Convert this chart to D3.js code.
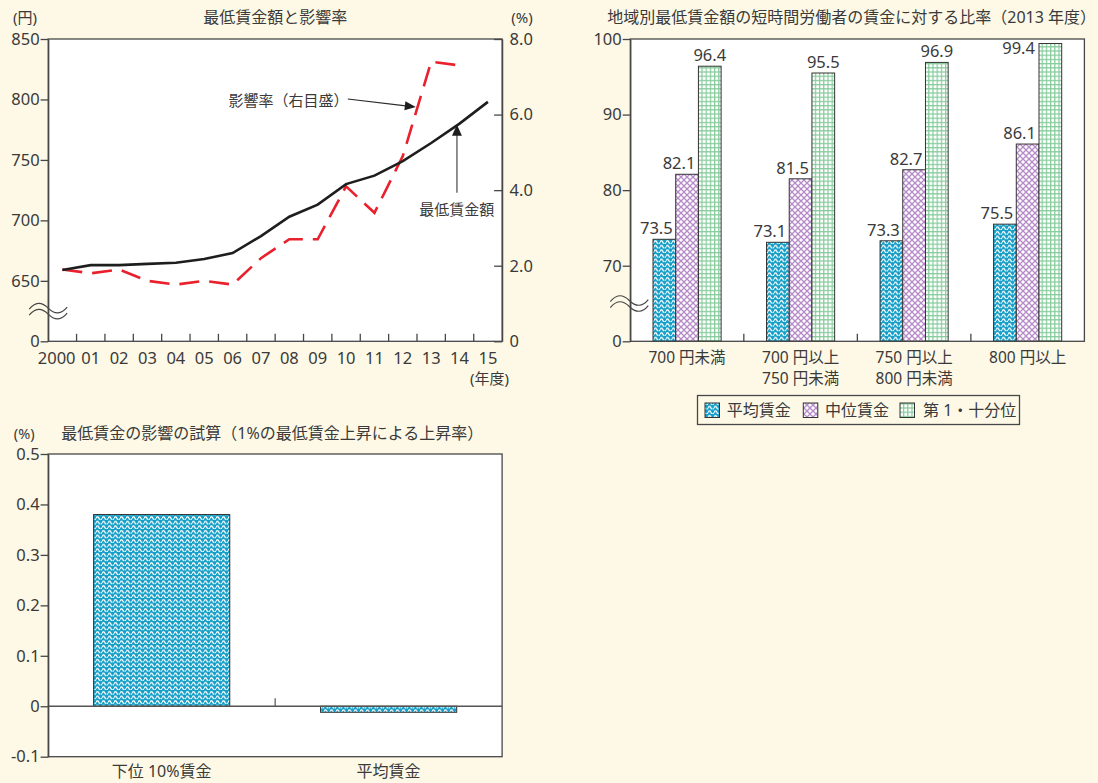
<!DOCTYPE html>
<html><head><meta charset="utf-8">
<script src="https://cdn.jsdelivr.net/npm/d3@7"></script>
<style>
body{margin:0;background:#fdf9e6;}
svg{display:block;}
</style></head><body>
<svg id="chart" width="1098" height="783"></svg>
<script>
// ---------- DATA ----------
const years = ["2000","01","02","03","04","05","06","07","08","09","10","11","12","13","14","15"];
const minWage = [659,663,663,664,665,668,673,687,703,713,730,737,749,764,780,798];
const impactRate = [1.9,1.8,1.9,1.6,1.5,1.6,1.5,2.2,2.7,2.7,4.1,3.4,4.9,7.4,7.3,null];
const wageTicks = [600,650,700,750,800,850];
const wageTickLabels = ["0","650","700","750","800","850"];
const rateTicks = [0,2,4,6,8];
const rateTickLabels = ["0","2.0","4.0","6.0","8.0"];

const regionCats = ["700 円未満","700 円以上 750 円未満","750 円以上 800 円未満","800 円以上"];
const regionCatLines = [["700 円未満"],["700 円以上","750 円未満"],["750 円以上","800 円未満"],["800 円以上"]];
const ratioSeries = ["平均賃金","中位賃金","第 1・十分位"];
const ratioAvg = [73.5,73.1,73.3,75.5];
const ratioMedian = [82.1,81.5,82.7,86.1];
const ratioDecile = [96.4,95.5,96.9,99.4];
const ratioTicks = [60,70,80,90,100];
const ratioTickLabels = ["0","70","80","90","100"];

const simCats = ["下位 10%賃金","平均賃金"];
const simValues = [0.38,-0.012];
const simTicks = [-0.1,0,0.1,0.2,0.3,0.4,0.5];
const simTickLabels = ["-0.1","0","0.1","0.2","0.3","0.4","0.5"];

// ---------- STYLE ----------
const FONT = '"Noto Sans","Noto Sans CJK JP",sans-serif';
const NUM = 16.5;
const TXT = "#3a3a3a", AX = "#474747";
const svg = d3.select("#chart").attr("font-family", FONT);

const defs = svg.append("defs");
const pw = defs.append("pattern").attr("id","wave").attr("width",6).attr("height",4.6).attr("patternUnits","userSpaceOnUse");
pw.append("rect").attr("width",6).attr("height",4.6).attr("fill","#169fc8");
pw.append("path").attr("d","M0,3.2 Q1.5,0 3,3.2 T6,3.2").attr("stroke","#fff").attr("stroke-width",1.3).attr("fill","none");
const pl = defs.append("pattern").attr("id","lattice").attr("width",6).attr("height",6).attr("patternUnits","userSpaceOnUse");
pl.append("rect").attr("width",6).attr("height",6).attr("fill","#fff");
pl.append("path").attr("d","M-1,-1 L7,7 M7,-1 L-1,7").attr("stroke","#b68ac8").attr("stroke-width",1.3);
const pg = defs.append("pattern").attr("id","grid").attr("width",4.2).attr("height",4.2).attr("patternUnits","userSpaceOnUse");
pg.append("rect").attr("width",4.2).attr("height",4.2).attr("fill","#fff");
pg.append("path").attr("d","M0,0.6 H4.2 M0.6,0 V4.2").attr("stroke","#86cb9c").attr("stroke-width",1.2);
const fills = ["url(#wave)","url(#lattice)","url(#grid)"];

function styleAxis(g){
  g.attr("font-family", FONT).attr("font-size",NUM);
  g.selectAll("path.domain").attr("stroke",AX).attr("stroke-width",1.3);
  g.selectAll("line").attr("stroke",AX).attr("stroke-width",1.3);
  g.selectAll("text").attr("fill",TXT);
}
function drawBreak(cx, cy){
  [-3,3].forEach(off=>{
    svg.append("path")
      .attr("d",`M${cx-19},${cy+off+1} Q${cx-10},${cy+off-10} ${cx},${cy+off} T${cx+19},${cy+off-1}`)
      .attr("fill","none").attr("stroke",AX).attr("stroke-width",1.2);
  });
}
function text(x,y,s,anchor,size){
  return svg.append("text").attr("x",x).attr("y",y).attr("text-anchor",anchor||"middle")
    .attr("dominant-baseline","central").attr("font-size",size||16).attr("fill",TXT).text(s);
}

// ---------- CHART 1 ----------
const c1 = {l:48.2, r:502.1, t:39, b:341.3};
const x1 = d3.scaleBand().domain(years).range([c1.l,c1.r]);
const cx1 = d => x1(d) + x1.bandwidth()/2;
const yL = d3.scaleLinear().domain([600,850]).range([c1.b,c1.t]);
const yR = d3.scaleLinear().domain([0,8]).range([c1.b,c1.t]);
svg.append("rect").attr("x",c1.l).attr("y",c1.t).attr("width",c1.r-c1.l).attr("height",c1.b-c1.t).attr("fill","#fff");

svg.append("path").datum(impactRate)
  .attr("d", d3.line().defined(d=>d!=null).x((d,i)=>cx1(years[i])).y(d=>yR(d)))
  .attr("fill","none").attr("stroke","#e8212d").attr("stroke-width",2.6).attr("stroke-dasharray","20,10");
svg.append("path").datum(minWage)
  .attr("d", d3.line().x((d,i)=>cx1(years[i])).y(d=>yL(d)))
  .attr("fill","none").attr("stroke","#1e1e1e").attr("stroke-width",2.6);

const gL1 = svg.append("g").attr("transform",`translate(${c1.l},0)`)
  .call(d3.axisLeft(yL).tickValues(wageTicks).tickFormat((d,i)=>wageTickLabels[i]).tickSize(7.6).tickSizeOuter(0).tickPadding(1));
styleAxis(gL1);
const gR1 = svg.append("g").attr("transform",`translate(${c1.r},0)`)
  .call(d3.axisRight(yR).tickValues(rateTicks).tickFormat((d,i)=>rateTickLabels[i]).tickSizeInner(-8).tickSizeOuter(0).tickPadding(7.5));
styleAxis(gR1);
svg.append("g").selectAll("line").data(years.slice(1)).join("line")
  .attr("x1",d=>x1(d)).attr("x2",d=>x1(d)).attr("y1",c1.b).attr("y2",c1.b-7.5)
  .attr("stroke",AX).attr("stroke-width",1.3);
svg.append("g").selectAll("text").data(years).join("text")
  .attr("x",(d,i)=> i===0 ? x1(d)+x1.bandwidth()-1 : cx1(d))
  .attr("y",357.3).attr("text-anchor",(d,i)=>i===0?"end":"middle").attr("dominant-baseline","central")
  .attr("font-size",NUM).attr("fill",TXT).text(d=>d);
svg.append("rect").attr("x",c1.l).attr("y",c1.t).attr("width",c1.r-c1.l).attr("height",c1.b-c1.t)
  .attr("fill","none").attr("stroke",AX).attr("stroke-width",1.3);
drawBreak(c1.l, (yL(600)+yL(650))/2);

text((c1.l+c1.r)/2,17,"最低賃金額と影響率","middle",16);
text(25,17,"(円)","middle",15);
text(522,17,"(%)","middle",15);
text(509,378.3,"(年度)","end",15);

// annotations
const tip1 = [cx1("12")+13, yR(6.2)];
text(288.4,100,"影響率（右目盛）","middle",15);
svg.append("line").attr("x1",347.8).attr("y1",99).attr("x2",tip1[0]-10).attr("y2",tip1[1]-1.2)
  .attr("stroke","#2a2a2a").attr("stroke-width",1.2);
{
  const ang = Math.atan2(tip1[1]-99, tip1[0]-347.8);
  const L=11, W=4.5;
  const bx = tip1[0]-L*Math.cos(ang), by = tip1[1]-L*Math.sin(ang);
  svg.append("path").attr("d",`M${tip1[0]},${tip1[1]} L${bx- W*Math.sin(ang)},${by+W*Math.cos(ang)} L${bx+W*Math.sin(ang)},${by-W*Math.cos(ang)} Z`).attr("fill","#1e1e1e");
}
const tip2 = [cx1("14")-2.6, yL(780)+1];
svg.append("line").attr("x1",tip2[0]).attr("x2",tip2[0]).attr("y1",192.7).attr("y2",tip2[1]+8)
  .attr("stroke","#555").attr("stroke-width",1.3);
svg.append("path").attr("d",`M${tip2[0]},${tip2[1]} L${tip2[0]-5},${tip2[1]+11} L${tip2[0]+5},${tip2[1]+11} Z`).attr("fill","#1e1e1e");
text(456.8,209.3,"最低賃金額","middle",15);

// ---------- CHART 2 ----------
const c2 = {l:630.3, r:1084.4, t:39, b:341.3};
const x2 = d3.scaleBand().domain(regionCats).range([c2.l,c2.r]);
const xs = d3.scaleBand().domain(ratioSeries).range([0.2*x2.bandwidth(),0.8*x2.bandwidth()]);
const y2 = d3.scaleLinear().domain([60,100]).range([c2.b,c2.t]);
svg.append("rect").attr("x",c2.l).attr("y",c2.t).attr("width",c2.r-c2.l).attr("height",c2.b-c2.t).attr("fill","#fff");
const ratioData = [ratioAvg,ratioMedian,ratioDecile];
const bars2 = [];
regionCats.forEach((c,ci)=>{
  ratioSeries.forEach((s,si)=>{
    bars2.push({c,s,si,v:ratioData[si][ci]});
  });
});
svg.append("g").selectAll("rect").data(bars2).join("rect")
  .attr("x",d=>x2(d.c)+xs(d.s)).attr("width",xs.bandwidth())
  .attr("y",d=>y2(d.v)).attr("height",d=>y2(60)-y2(d.v))
  .attr("fill",d=>fills[d.si]).attr("stroke","#333").attr("stroke-width",1);
svg.append("g").selectAll("text").data(bars2).join("text")
  .each(function(d){
    const x0 = x2(d.c)+xs(d.s), w = xs.bandwidth(), yt = y2(d.v);
    const el = d3.select(this);
    if (yt - 5 - 12 < c2.t) {
      el.attr("x",x0-4).attr("y",yt+10.5).attr("text-anchor","end");
    } else if (d.si < 2) {
      el.attr("x",x0+w-3).attr("y",yt-5).attr("text-anchor","end");
    } else {
      el.attr("x",x0+w/2).attr("y",yt-5).attr("text-anchor","middle");
    }
  })
  .attr("font-size",NUM).attr("fill",TXT).text(d=>d.v.toFixed(1));

const gL2 = svg.append("g").attr("transform",`translate(${c2.l},0)`)
  .call(d3.axisLeft(y2).tickValues(ratioTicks).tickFormat((d,i)=>ratioTickLabels[i]).tickSize(7.6).tickSizeOuter(0).tickPadding(1));
styleAxis(gL2);
svg.append("g").selectAll("line").data(regionCats.slice(1)).join("line")
  .attr("x1",d=>x2(d)).attr("x2",d=>x2(d)).attr("y1",c2.b).attr("y2",c2.b-7.5)
  .attr("stroke",AX).attr("stroke-width",1.3);
regionCats.forEach((c,ci)=>{
  const t = svg.append("text").attr("text-anchor","middle").attr("font-size",15.5).attr("fill",TXT);
  regionCatLines[ci].forEach((ln,li)=>{
    t.append("tspan").attr("x",x2(c)+x2.bandwidth()/2).attr("y",356.6+li*21.2)
      .attr("dominant-baseline","central").text(ln);
  });
});
svg.append("rect").attr("x",c2.l).attr("y",c2.t).attr("width",c2.r-c2.l).attr("height",c2.b-c2.t)
  .attr("fill","none").attr("stroke",AX).attr("stroke-width",1.3);
drawBreak(c2.l-1, (y2(60)+y2(70))/2);
text(851.7,17,"地域別最低賃金額の短時間労働者の賃金に対する比率（2013 年度）","middle",16);

// legend
svg.append("rect").attr("x",697.5).attr("y",395.5).attr("width",322).attr("height",29)
  .attr("fill","#fdf9e6").attr("stroke",AX).attr("stroke-width",1.3);
const legX = [705,803.3,900], legTX = [726.7,825,923];
ratioSeries.forEach((s,i)=>{
  svg.append("rect").attr("x",legX[i]).attr("y",403).attr("width",14.5).attr("height",14.5)
    .attr("fill",fills[i]).attr("stroke","#333").attr("stroke-width",1);
  text(legTX[i],410.3,s,"start",16);
});

// ---------- CHART 3 ----------
const c3 = {l:48.2, r:502.1, t:454, b:756.7};
const x3 = d3.scaleBand().domain(simCats).range([c3.l,c3.r]).paddingInner(0.4).paddingOuter(0.2);
const y3 = d3.scaleLinear().domain([-0.1,0.5]).range([c3.b,c3.t]);
svg.append("rect").attr("x",c3.l).attr("y",c3.t).attr("width",c3.r-c3.l).attr("height",c3.b-c3.t).attr("fill","#fff");
svg.append("g").selectAll("rect").data(simCats).join("rect")
  .attr("x",d=>x3(d)).attr("width",x3.bandwidth())
  .attr("y",(d,i)=>y3(Math.max(0,simValues[i]))).attr("height",(d,i)=>Math.abs(y3(simValues[i])-y3(0)))
  .attr("fill","url(#wave)").attr("stroke","#333").attr("stroke-width",1);
svg.append("line").attr("x1",c3.l).attr("x2",c3.r).attr("y1",y3(0)).attr("y2",y3(0)).attr("stroke","#555").attr("stroke-width",1.3);
const sep3 = (x3(simCats[0])+x3.bandwidth()+x3(simCats[1]))/2;
svg.append("line").attr("x1",sep3).attr("x2",sep3).attr("y1",y3(0)).attr("y2",y3(0)-8).attr("stroke","#555").attr("stroke-width",1.2);
const gL3 = svg.append("g").attr("transform",`translate(${c3.l},0)`)
  .call(d3.axisLeft(y3).tickValues(simTicks).tickFormat((d,i)=>simTickLabels[i]).tickSize(7.6).tickSizeOuter(0).tickPadding(1));
styleAxis(gL3);
simCats.forEach(c=> text(x3(c)+x3.bandwidth()/2, 770.7, c, "middle", 16));
svg.append("rect").attr("x",c3.l).attr("y",c3.t).attr("width",c3.r-c3.l).attr("height",c3.b-c3.t)
  .attr("fill","none").attr("stroke",AX).attr("stroke-width",1.3);
text(13.8,432.5,"(%)","start",14.5);
text(61.3,433.3,"最低賃金の影響の試算（1%の最低賃金上昇による上昇率）","start",16);
</script>
</body></html>
